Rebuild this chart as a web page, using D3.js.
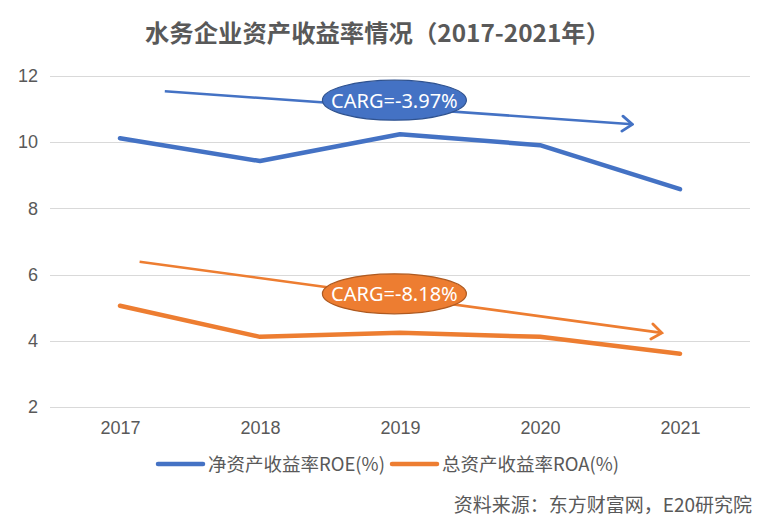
<!DOCTYPE html>
<html>
<head>
<meta charset="utf-8">
<script src="https://cdn.jsdelivr.net/npm/d3@7"></script>
<style>
  html, body { margin: 0; padding: 0; background: #fff; }
  svg { display: block; }
</style>
</head>
<body>
<svg id="chart" width="775" height="520"></svg>
<script>
// ---- data ----
const years = ["2017", "2018", "2019", "2020", "2021"];
const roe = [10.12, 9.43, 10.24, 9.91, 8.58];
const roa = [5.06, 4.12, 4.24, 4.12, 3.61];
const yTicks = [2, 4, 6, 8, 10, 12];
const seriesNames = ["净资产收益率ROE(%)", "总资产收益率ROA(%)"];
const cagrLabels = ["CARG=-3.97%", "CARG=-8.18%"];
// trend arrows in data space: [category index, value]
const roeTrend = [[0.32, 11.54], [3.66, 10.54]];
const roaTrend = [[0.14, 6.39], [3.87, 4.24]];
const labelAnchors = [[1.96, 11.27], [1.96, 5.42]];
const titleText = "水务企业资产收益率情况（2017-2021年）";
const sourceText = "资料来源：东方财富网，E20研究院";

// ---- layout ----
const W = 775, H = 520;
const plot = { left: 50, right: 750, top: 76, bottom: 407 };
const colors = ["#4472C4", "#ED7D31"];
const strokes = ["#2F528F", "#AE5A21"];
const textColor = "#595959";
const cjk = "'Microsoft YaHei','Noto Sans CJK SC','Noto Sans',sans-serif";

const svg = d3.select("#chart");

const x = d3.scalePoint().domain(years).range([plot.left, plot.right]).padding(0.5);
const xi = i => x(years[0]) + i * x.step();
const y = d3.scaleLinear().domain([2, 12]).range([plot.bottom, plot.top]);

// gridlines
svg.append("g").selectAll("line").data(yTicks).join("line")
  .attr("x1", plot.left).attr("x2", plot.right)
  .attr("y1", d => Math.round(y(d)) + 0.5).attr("y2", d => Math.round(y(d)) + 0.5)
  .attr("stroke", "#D9D9D9").attr("stroke-width", 1);

// y axis labels
const yAxis = d3.axisLeft(y).tickValues(yTicks).tickSize(0).tickPadding(0);
const gy = svg.append("g").attr("transform", `translate(38,0)`).call(yAxis);
gy.select(".domain").remove();
gy.selectAll("text").attr("fill", textColor).style("font-size", "18px")
  .style("font-family", "'Liberation Sans',Arial,sans-serif");

// x axis labels
const xAxis = d3.axisBottom(x).tickSize(0).tickPadding(0);
const gx = svg.append("g").attr("transform", `translate(0,421)`).call(xAxis);
gx.select(".domain").remove();
gx.selectAll("text").attr("fill", textColor).style("font-size", "18px")
  .style("font-family", "'Liberation Sans',Arial,sans-serif");

// series lines
const line = d3.line().x((d, i) => x(years[i])).y(d => y(d));
[roe, roa].forEach((s, k) => {
  svg.append("path").datum(s).attr("d", line)
    .attr("fill", "none").attr("stroke", colors[k]).attr("stroke-width", 4.5)
    .attr("stroke-linecap", "round").attr("stroke-linejoin", "round");
});

// arrow markers
const defs = svg.append("defs");
colors.forEach((c, k) => {
  defs.append("marker").attr("id", "arr" + k)
    .attr("viewBox", "-12 -10 14 20").attr("markerWidth", 14).attr("markerHeight", 20)
    .attr("refX", 0).attr("refY", 0).attr("orient", "auto").attr("markerUnits", "userSpaceOnUse")
    .append("path").attr("d", "M-10,-7.5 L0,0 L-10,7.5")
    .attr("fill", "none").attr("stroke", c).attr("stroke-width", 2.8)
    .attr("stroke-linecap", "round").attr("stroke-linejoin", "miter");
});
[roeTrend, roaTrend].forEach((t, k) => {
  svg.append("line")
    .attr("x1", xi(t[0][0])).attr("y1", y(t[0][1]))
    .attr("x2", xi(t[1][0])).attr("y2", y(t[1][1]))
    .attr("stroke", colors[k]).attr("stroke-width", 2.6)
    .attr("marker-end", `url(#arr${k})`);
});

// CAGR ellipses
labelAnchors.forEach((a, k) => {
  const cx = xi(a[0]), cy = y(a[1]);
  svg.append("ellipse").attr("cx", cx).attr("cy", cy).attr("rx", 72).attr("ry", 20)
    .attr("fill", colors[k]).attr("stroke", strokes[k]).attr("stroke-width", 1.2);
  svg.append("text").attr("x", cx).attr("y", cy + 7.5).attr("text-anchor", "middle")
    .attr("fill", "#fff").style("font-size", "20px")
    .style("font-family", "'Noto Sans',sans-serif").text(cagrLabels[k]);
});

// title
svg.append("text").attr("x", 145).attr("y", 42)
  .attr("textLength", 465).attr("lengthAdjust", "spacingAndGlyphs")
  .attr("fill", textColor).style("font-size", "24px").style("font-weight", "bold")
  .style("font-family", cjk).text(titleText);

// legend
const legendX = [158, 392];
seriesNames.forEach((n, k) => {
  const g = svg.append("g").attr("transform", `translate(${legendX[k]},464)`);
  g.append("line").attr("x1", 0).attr("x2", 45).attr("y1", 0).attr("y2", 0)
    .attr("stroke", colors[k]).attr("stroke-width", 4.5).attr("stroke-linecap", "round");
  g.append("text").attr("x", 50).attr("y", 6.5).attr("fill", textColor)
    .style("font-size", "18.5px").style("font-family", cjk).text(n);
});

// source
svg.append("text").attr("x", 752).attr("y", 512).attr("text-anchor", "end")
  .attr("fill", textColor).style("font-size", "19px").style("font-family", cjk).text(sourceText);
</script>
</body>
</html>
